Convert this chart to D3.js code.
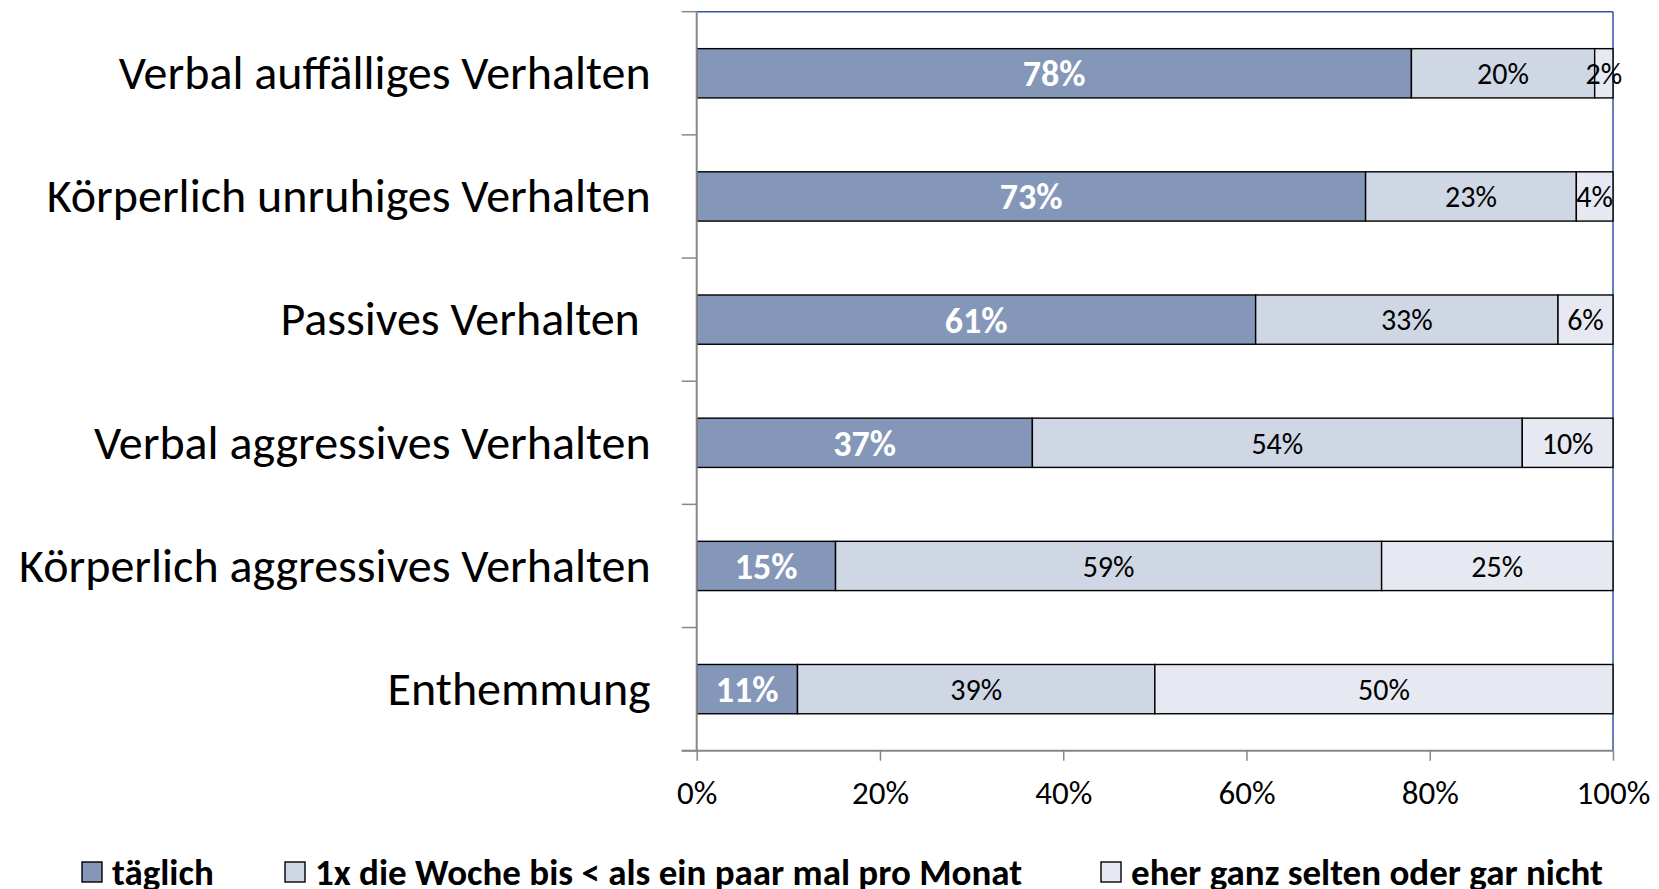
<!DOCTYPE html>
<html>
<head>
<meta charset="utf-8">
<title>Verhalten</title>
<script src="https://cdnjs.cloudflare.com/ajax/libs/d3/7.8.5/d3.min.js"></script>
<style>
  body { margin: 0; background: #fff; }
  svg { display: block; font-family: Carlito, Calibri, Lato, sans-serif; }
  .cat text { font-size: 48px; fill: #000; white-space: pre; }
  .xaxis text { font-size: 33px; fill: #000; }
  .val { font-size: 30px; }
  .val.strong { font-size: 36px; font-weight: bold; }
  .legend text { font-size: 37px; font-weight: bold; }
</style>
</head>
<body>
<script>

var width = 1659,
    height = 889;

// data (top to bottom)
var categories = [
  "Verbal auffälliges Verhalten",
  "Körperlich unruhiges Verhalten",
  "Passives Verhalten ",
  "Verbal aggressives Verhalten",
  "Körperlich aggressives Verhalten",
  "Enthemmung"
];
var series = ["täglich", "1x die Woche bis < als ein paar mal pro Monat", "eher ganz selten oder gar nicht"];
var taeglich = [78, 73, 61, 37, 15, 11];
var woche    = [20, 23, 33, 54, 59, 39];
var selten   = [2, 4, 6, 10, 25, 50];
var xTicks = [0, 0.2, 0.4, 0.6, 0.8, 1];

var colors = ["#8497b9", "#cfd7e4", "#e6e9f1"];
var labelColors = ["#fff", "#000", "#000"];

var margin = {top: 11.7, right: 46, bottom: 138.3, left: 696.7};
var plotW = width - margin.left - margin.right,
    plotH = height - margin.top - margin.bottom;

var rows = categories.map(function (c, i) {
  return {cat: c, s0: taeglich[i], s1: woche[i], s2: selten[i]};
});

// 100% stacked
var stack = d3.stack()
  .keys(["s0", "s1", "s2"])
  .offset(d3.stackOffsetExpand);
var layers = stack(rows);

var x = d3.scaleLinear().domain([0, 1]).range([0, plotW]);
var y = d3.scaleBand().domain(categories).range([0, plotH]).paddingInner(0.6).paddingOuter(0.3);

var svg = d3.select("body").append("svg")
  .attr("width", width)
  .attr("height", height);

var g = svg.append("g").attr("transform", "translate(" + margin.left + "," + margin.top + ")");

// plot frame: blue on top and right
g.append("line").attr("x1", 0).attr("x2", plotW).attr("y1", 0).attr("y2", 0)
  .attr("stroke", "#2f56a8").attr("stroke-width", 1.5);
g.append("line").attr("x1", plotW).attr("x2", plotW).attr("y1", 0).attr("y2", plotH)
  .attr("stroke", "#2f56a8").attr("stroke-width", 1.5);

// bars
var layer = g.selectAll(".layer")
  .data(layers)
  .enter().append("g")
  .attr("class", "layer")
  .attr("fill", function (d, i) { return colors[i]; });

layer.selectAll("rect")
  .data(function (d) { return d; })
  .enter().append("rect")
  .attr("x", function (d) { return x(d[0]); })
  .attr("y", function (d) { return y(d.data.cat); })
  .attr("width", function (d) { return x(d[1]) - x(d[0]); })
  .attr("height", y.bandwidth())
  .attr("stroke", "#000")
  .attr("stroke-width", 1.4);

// value labels
layers.forEach(function (l, li) {
  var vals = [taeglich, woche, selten][li];
  g.selectAll(".val" + li)
    .data(l)
    .enter().append("text")
    .attr("class", li == 0 ? "val strong" : "val")
    .attr("x", function (d) { return x((d[0] + d[1]) / 2); })
    .attr("y", function (d) { return y(d.data.cat) + y.bandwidth() / 2; })
    .attr("dy", "0.36em")
    .attr("text-anchor", "middle")
    .attr("fill", labelColors[li])
    .text(function (d, i) { return vals[i] + "%"; });
});

// y axis (gray) with ticks on category boundaries
var axisColor = "#878787";
g.append("line").attr("x1", 0).attr("x2", 0).attr("y1", 0).attr("y2", plotH)
  .attr("stroke", axisColor).attr("stroke-width", 2);
g.selectAll(".ytick")
  .data(d3.range(categories.length + 1))
  .enter().append("line")
  .attr("x1", -15).attr("x2", 0)
  .attr("y1", function (d) { return d * y.step(); })
  .attr("y2", function (d) { return d * y.step(); })
  .attr("stroke", axisColor).attr("stroke-width", 1.5);

var yAxis = d3.axisLeft(y).tickSize(0).tickPadding(46);
var ya = g.append("g").attr("class", "cat").call(yAxis)
  .attr("font-family", null).attr("font-size", null);
ya.select(".domain").remove();
ya.selectAll("text").attr("dy", "0.33em");

// x axis
var xAxis = d3.axisBottom(x).tickValues(xTicks).tickFormat(d3.format(".0%")).tickSize(10).tickPadding(20);
var xa = g.append("g").attr("class", "xaxis")
  .attr("transform", "translate(0," + plotH + ")")
  .call(xAxis)
  .attr("font-family", null).attr("font-size", null);
xa.select(".domain").attr("stroke", axisColor).attr("stroke-width", 2).attr("d", "M-15,0H" + plotW);
xa.selectAll(".tick line").attr("stroke", axisColor).attr("stroke-width", 1.5);

// legend
var legendX = [82, 285, 1101];
var legend = svg.append("g").attr("class", "legend")
  .selectAll("g")
  .data(series)
  .enter().append("g")
  .attr("transform", function (d, i) { return "translate(" + legendX[i] + ",862)"; });
legend.append("rect")
  .attr("width", 20).attr("height", 20)
  .attr("fill", function (d, i) { return colors[i]; })
  .attr("stroke", "#000").attr("stroke-width", 1.4);
legend.append("text")
  .attr("x", 30).attr("y", 23)
  .text(function (d) { return d; });

</script>
</body>
</html>
